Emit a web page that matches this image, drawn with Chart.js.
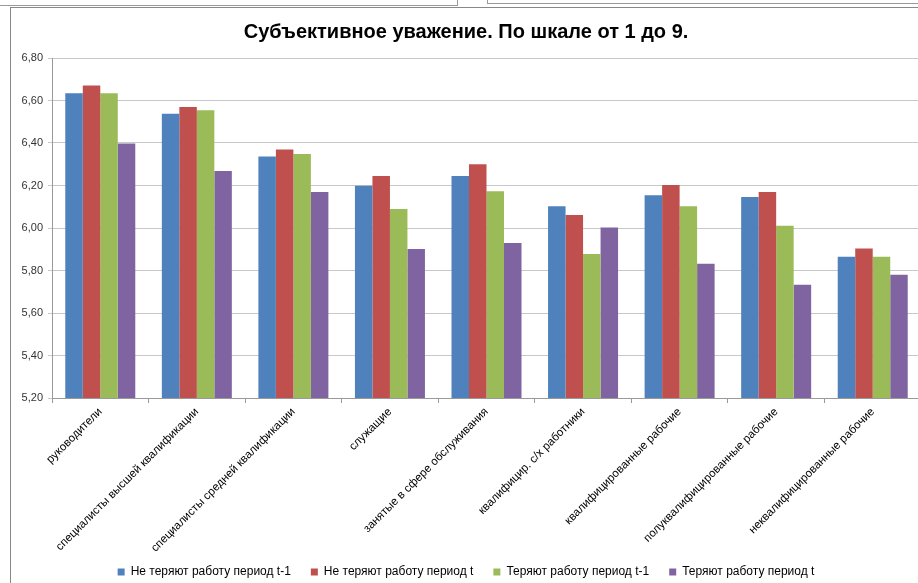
<!DOCTYPE html>
<html>
<head>
<meta charset="utf-8">
<script src="https://cdn.jsdelivr.net/npm/chart.js@4"></script>
<style>
  html, body { margin: 0; padding: 0; background: #fff; overflow: hidden; }
  body { width: 918px; height: 583px; position: relative; }
  .frag1 { position: absolute; left: 0; top: 0; width: 457px; height: 5px; border-bottom: 1px solid #999; border-right: 1px solid #999; }
  .frag2 { position: absolute; left: 487px; top: 0; width: 440px; height: 3px; border-bottom: 1px solid #999; border-left: 1px solid #999; }
  #box { position: absolute; left: 10px; top: 7px; width: 940px; height: 640px; border-left: 1px solid #888; border-top: 1px solid #888; }
  #wrap { position: absolute; left: 0; top: 0; width: 922px; height: 580px; }
</style>
</head>
<body>
<div class="frag1"></div>
<div class="frag2"></div>
<div id="box"><div id="wrap"><canvas id="chart"></canvas></div></div>
<script>
const categories = [
  "руководители",
  "специалисты высшей квалификации",
  "специалисты средней квалификации",
  "служащие",
  "занятые в сфере обслуживания",
  "квалифицир. с/х работники",
  "квалифицированные рабочие",
  "полуквалифицированные рабочие",
  "неквалифицированные рабочие"
];

const seriesNames = [
  "Не теряют работу период t-1",
  "Не теряют работу период t",
  "Теряют работу период t-1",
  "Теряют работу период t"
];

const keepT1 = [6.634, 6.538, 6.336, 6.199, 6.245, 6.102, 6.154, 6.146, 5.865];
const keepT  = [6.671, 6.569, 6.370, 6.245, 6.300, 6.061, 6.202, 6.169, 5.904];
const loseT1 = [6.634, 6.554, 6.348, 6.089, 6.173, 5.878, 6.102, 6.011, 5.865];
const loseT  = [6.398, 6.268, 6.169, 5.901, 5.929, 6.002, 5.832, 5.733, 5.780];

const yMin = 5.2;
const yMax = 6.8;
const yStep = 0.2;

const colors = ["#4F81BD", "#C0504D", "#9BBB59", "#8064A2"];
const values = [keepT1, keepT, loseT1, loseT];

// legend: wide gaps between items but a short block (padding is shared by both)
const LEGEND_GAP = 20;
const LEGEND_PAD = 8;
const tightLegend = {
  id: "tightLegend",
  beforeLayout(chart) {
    const lg = chart.legend;
    if (!lg || lg._tight) return;
    const cut = LEGEND_GAP - LEGEND_PAD;
    const fit = lg.fit.bind(lg);
    const draw = lg._draw.bind(lg);
    lg.fit = function () { fit(); this.height -= cut; };
    lg._draw = function () { this.top -= cut; draw(); this.top += cut; };
    lg._tight = true;
  }
};

const ctx = document.getElementById("chart");

new Chart(ctx, {
  type: "bar",
  data: {
    labels: categories,
    datasets: values.map((data, i) => ({
      label: seriesNames[i],
      data,
      backgroundColor: colors[i],
      borderWidth: 0,
      categoryPercentage: 0.725,
      barPercentage: 1
    }))
  },
  options: {
    responsive: true,
    maintainAspectRatio: false,
    animation: false,
    layout: { padding: { left: 0, right: 12, top: 0, bottom: 0 } },
    plugins: {
      title: {
        display: true,
        text: "Субъективное уважение. По шкале от 1 до 9.",
        color: "#000",
        font: { family: "'Liberation Sans', sans-serif", size: 20, weight: "bold" },
        padding: { top: 12, bottom: 14 }
      },
      legend: {
        position: "bottom",
        labels: {
          color: "#000",
          boxWidth: 7,
          boxHeight: 7,
          padding: LEGEND_GAP,
          font: { family: "'Liberation Sans', sans-serif", size: 12 }
        }
      },
      tooltip: { enabled: false }
    },
    scales: {
      x: {
        grid: { display: true, drawOnChartArea: false, offset: true, tickLength: 5, color: "#999" },
        border: { color: "#999" },
        ticks: {
          color: "#000",
          maxRotation: 45,
          minRotation: 45,
          autoSkip: false,
          padding: 2,
          font: { family: "'Liberation Sans', sans-serif", size: 11.5 }
        },
        afterFit: (scale) => { scale.height = 160; }
      },
      y: {
        min: yMin,
        max: yMax,
        grid: { color: "#c8c8c8", tickLength: 4 },
        border: { color: "#999" },
        ticks: {
          stepSize: yStep,
          color: "#333",
          padding: 5,
          font: { family: "'Liberation Sans', sans-serif", size: 11 },
          callback: (v) => Number(v).toFixed(2).replace(".", ",")
        },
        afterFit: (scale) => { scale.width = 41; }
      }
    }
  },
  plugins: [tightLegend]
});
</script>
</body>
</html>
